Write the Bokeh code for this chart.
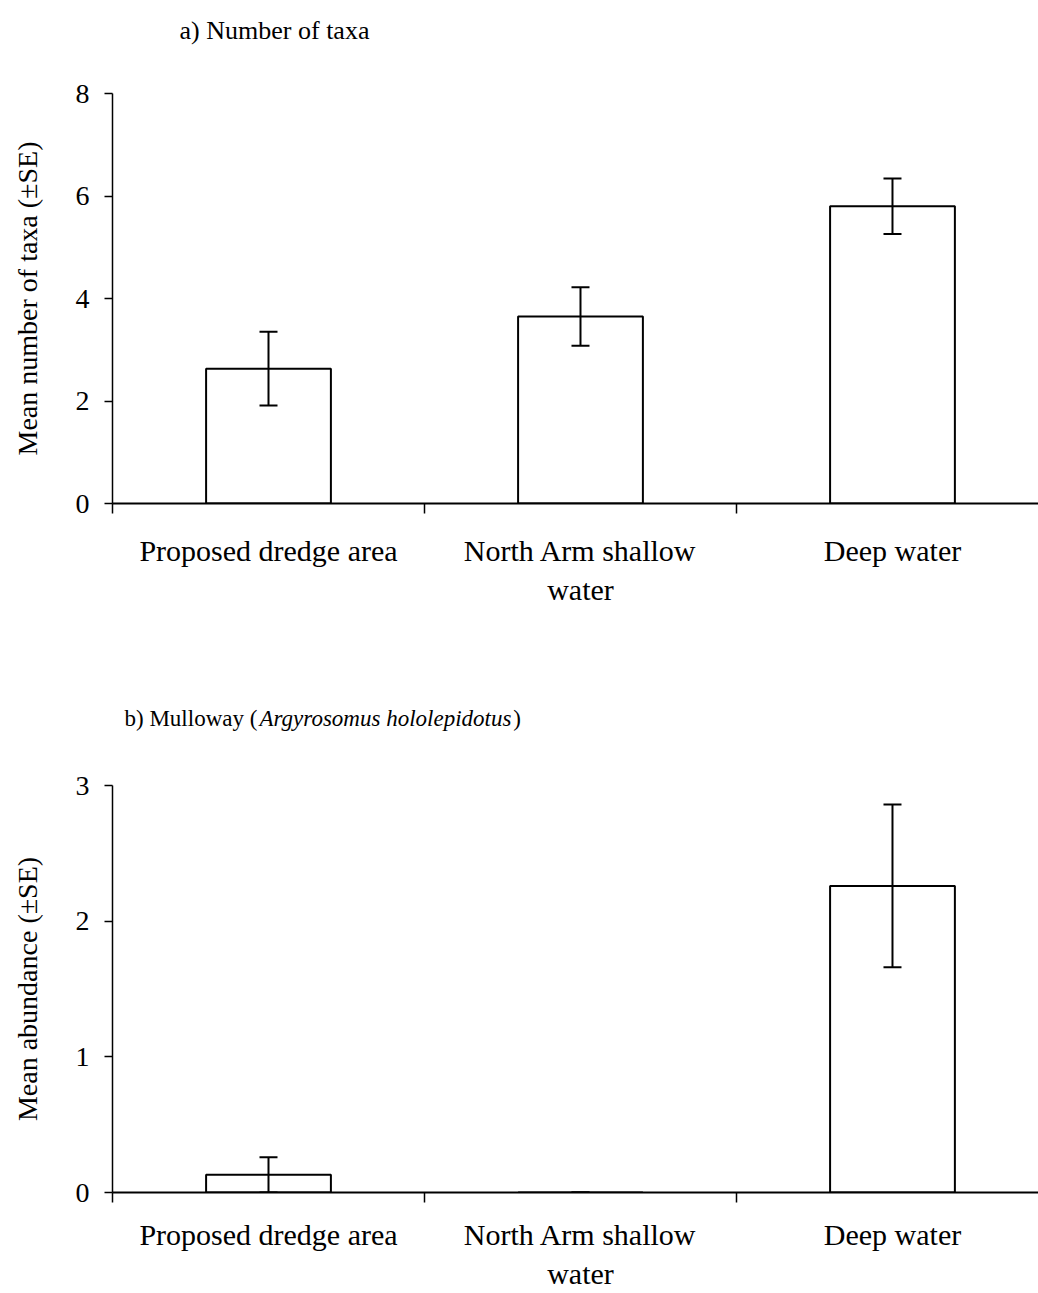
from bokeh.plotting import figure
from bokeh.models import ColumnDataSource, Whisker, TeeHead, FixedTicker, Range1d
from bokeh.layouts import column
from bokeh.core.properties import value
from bokeh.embed import file_html
from bokeh.resources import INLINE

# ---- data ----
categories = ["Proposed dredge area", "North Arm shallow\nwater", "Deep water"]
taxa_mean = [2.63, 3.65, 5.80]
taxa_se = [0.72, 0.57, 0.54]
mulloway_mean = [0.13, 0.0, 2.26]
mulloway_se = [0.13, 0.0, 0.60]
taxa_ticks = [0, 2, 4, 6, 8]
mulloway_ticks = [0, 1, 2, 3]
taxa_ylabel = "Mean number of taxa (\u00b1SE)"
mulloway_ylabel = "Mean abundance (\u00b1SE)"
title_a = "a) Number of taxa"
title_b_parts = ["b) Mulloway (", "Argyrosomus hololepidotus", " )"]

FONT = "Liberation Serif"
W = 1038
LEFT = 112
xpos = [i + 0.5 for i in range(len(categories))]


def make_title_fig(height):
    # frame is aligned with the chart frames (page x LEFT..W), so use page coordinates
    t = figure(width=W, height=height, output_backend="svg", toolbar_location=None,
               x_range=Range1d(LEFT, W), y_range=Range1d(0, height),
               x_axis_location=None, y_axis_location=None,
               min_border_left=LEFT, min_border_right=0,
               min_border_top=0, min_border_bottom=0)
    t.outline_line_color = None
    t.xgrid.visible = False
    t.ygrid.visible = False
    return t


def make_panel(means, ses, yticks, ylabel, height, border_top, border_bottom, standoff):
    p = figure(width=W, height=height, output_backend="svg", toolbar_location=None,
               x_range=Range1d(0, 2.968), y_range=Range1d(yticks[0], yticks[-1]),
               min_border_left=LEFT, min_border_right=0,
               min_border_top=border_top, min_border_bottom=border_bottom)
    p.outline_line_color = None
    p.xgrid.visible = False
    p.ygrid.visible = False

    src = ColumnDataSource(dict(
        x=xpos, top=means,
        upper=[m + s for m, s in zip(means, ses)],
        lower=[max(m - s, 0) for m, s in zip(means, ses)],
    ))
    p.vbar(x="x", top="top", bottom=0, width=0.4, source=src,
           fill_color="white", line_color="black", line_width=2)
    w = Whisker(source=src, base="x", upper="upper", lower="lower",
                line_color="black", line_width=2,
                upper_head=TeeHead(size=18, line_width=2, line_color="black"),
                lower_head=TeeHead(size=18, line_width=2, line_color="black"))
    w.level = "overlay"
    p.add_layout(w)

    # x axis: labels at category centres, tick marks at category boundaries
    xa = p.xaxis[0]
    xa.ticker = FixedTicker(ticks=xpos, minor_ticks=[0, 1, 2, 3])
    xa.major_label_overrides = {x: c for x, c in zip(xpos, categories)}
    xa.major_tick_out = 0
    xa.major_tick_in = 0
    xa.minor_tick_out = 10
    xa.minor_tick_in = 0
    xa.minor_tick_line_width = 1.5
    xa.minor_tick_line_color = "black"
    xa.axis_line_width = 2
    xa.axis_line_color = "black"
    xa.major_label_text_font = FONT
    xa.major_label_text_font_size = "30px"
    xa.major_label_text_color = "black"
    xa.major_label_text_line_height = 1.2
    xa.major_label_standoff = standoff

    ya = p.yaxis[0]
    ya.ticker = FixedTicker(ticks=yticks, minor_ticks=[])
    ya.major_tick_out = 8
    ya.major_tick_in = 0
    ya.major_tick_line_width = 1.5
    ya.major_tick_line_color = "black"
    ya.axis_line_width = 1.5
    ya.axis_line_color = "black"
    ya.major_label_text_font = FONT
    ya.major_label_text_font_size = "28px"
    ya.major_label_text_color = "black"
    ya.major_label_standoff = 15
    ya.axis_label = ylabel
    ya.axis_label_text_font = FONT
    ya.axis_label_text_font_size = "28px"
    ya.axis_label_text_font_style = "normal"
    ya.axis_label_text_color = "black"
    ya.axis_label_standoff = 30
    return p


# title a row (page y 0..60)
t1 = make_title_fig(60)
t1.text(x=[274], y=[30], text=[title_a], text_font=value(FONT), text_font_size="26px",
        text_align="center", text_baseline="middle", text_color="black")

p1 = make_panel(taxa_mean, taxa_se, taxa_ticks, taxa_ylabel, 580, 33, 137, 20)

# title b row (page y 640..745), text centre at page y 718
t2 = make_title_fig(105)
size = 23
ty = 105 - 78
x0 = 124
x1 = x0 + 5.78 * size + 2
x2 = x1 + 11.03 * size
t2.text(x=[x0], y=[ty], text=[title_b_parts[0]], text_font=value(FONT),
        text_font_size=f"{size}px", text_align="left", text_baseline="middle", text_color="black")
t2.text(x=[x1], y=[ty], text=[title_b_parts[1]], text_font=value(FONT),
        text_font_size=f"{size}px", text_font_style="italic",
        text_align="left", text_baseline="middle", text_color="black")
t2.text(x=[x2], y=[ty], text=[title_b_parts[2]], text_font=value(FONT),
        text_font_size=f"{size}px", text_align="left", text_baseline="middle", text_color="black")

p2 = make_panel(mulloway_mean, mulloway_se, mulloway_ticks, mulloway_ylabel, 548, 40, 100, 15)

layout = column(t1, p1, t2, p2, spacing=0)
open("out.html", "w").write(file_html(layout, INLINE))
